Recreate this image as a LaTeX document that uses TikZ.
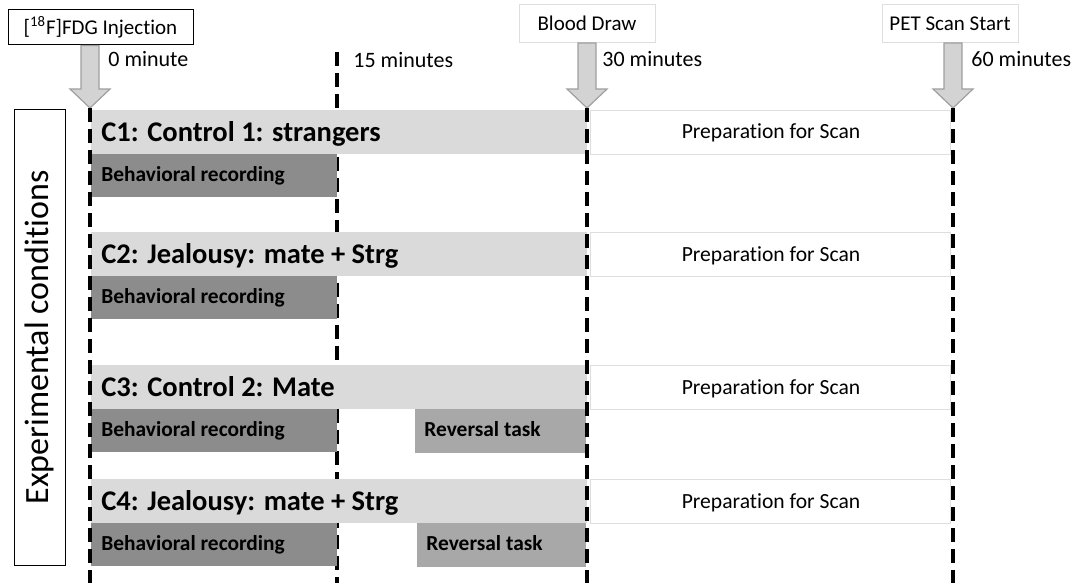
\documentclass[tikz,border=0pt]{standalone}
\usepackage{fontspec}
\setmainfont{Carlito}[Ligatures=NoCommon]
\usetikzlibrary{calc}

\definecolor{condgray}{RGB}{218,218,218}
\definecolor{recgray}{RGB}{140,140,140}
\definecolor{revgray}{RGB}{168,168,168}
\definecolor{arrowgray}{RGB}{211,211,211}
\definecolor{edgegray}{RGB}{160,160,160}
\definecolor{boxgray}{RGB}{222,222,222}

\tikzset{
  timeline/.style={line width=2pt, dash pattern=on 7pt off 3.5pt},
  topbox/.style={draw=boxgray, line width=0.5pt, fill=white, inner sep=0pt,
    minimum height=19pt, font=\fontsize{10.5}{12}\selectfont},
  timelabel/.style={anchor=base west, inner sep=0pt, font=\fontsize{11}{13}\selectfont},
  condlabel/.style={anchor=base west, inner sep=0pt, font=\fontsize{14.25}{16}\selectfont\bfseries},
  tasklabel/.style={anchor=base west, inner sep=0pt, font=\fontsize{10.7}{12}\selectfont\bfseries},
  preplabel/.style={anchor=base, inner sep=0pt, font=\fontsize{10.8}{12}\selectfont},
}

% block arrow from the bottom of a label box down to a time point
\newcommand{\blockarrow}[2]{%
  \draw[edgegray, fill=arrowgray, line width=0.6pt]
    ($(#1.south -| #2)+(-9,0)$) -- ($(#2)+(-9,-19)$) -- ($(#2)+(-20,-19)$) -- (#2)
    -- ($(#2)+(20,-19)$) -- ($(#2)+(9,-19)$) -- ($(#1.south -| #2)+(9,0)$) -- cycle;}

\begin{document}
\begin{tikzpicture}[x=0.5pt, y=-0.5pt]
  \useasboundingbox (0,0) rectangle (1086,583);

  % time points
  \coordinate (t0) at (90,108);
  \coordinate (t15) at (337,52);
  \coordinate (t30) at (587,108);
  \coordinate (t60) at (953,108);

  % labels on top
  \node[topbox, draw=black, minimum width=92.5pt, minimum height=17.5pt] (inj) at (100.5,27.5) {[\textsuperscript{18}F]FDG Injection};
  \node[topbox, minimum width=68pt] (blood) at (587,23.5) {Blood Draw};
  \node[topbox, minimum width=68pt] (pet) at (950,23.5) {PET Scan Start};

  \blockarrow{inj}{t0}
  \blockarrow{blood}{t30}
  \blockarrow{pet}{t60}

  \node[timelabel] (m0) at (108,67) {0 minute};
  \node[timelabel] (m15) at (353,68) {15 minutes};
  \node[timelabel] (m30) at (602,67) {30 minutes};
  \node[timelabel] (m60) at (971,67) {60 minutes};

  \draw[timeline] (t15) -- (337,583);

  % conditions
  \foreach \y/\name/\txt in {110/c1/{C1: Control 1: strangers}, 232/c2/{C2: Jealousy: mate + Strg},
      365/c3/{C3: Control 2: Mate}, 479/c4/{C4: Jealousy: mate + Strg}}{
    \fill[condgray] (91,\y) rectangle (587,\y+44);
    \fill[recgray] (91,\y+44) rectangle (337,\y+87);
    \draw[boxgray, fill=white] (590,\y) rectangle (950,\y+44);
    \node[condlabel] (\name) at (101,\y+31) {\txt};
    \node[tasklabel] (\name rec) at (101,\y+71) {Behavioral recording};
    \node[preplabel] (\name prep) at (771,\y+29) {Preparation for Scan};
  }

  % reversal task
  \foreach \y/\name/\x in {409/c3/415, 523/c4/417}{
    \fill[revgray] (\x,\y) rectangle (586,\y+44);
    \node[tasklabel] (\name rev) at (\x+9,\y+27) {Reversal task};
  }

  \draw[timeline] (t0) -- (90,583);
  \draw[timeline] (t30) -- (587,583);
  \draw[timeline] (t60) -- (953,583);

  \node[draw, line width=0.5pt, minimum width=25.5pt, minimum height=227.5pt] (cond) at (39.5,337.5) {};
  \node[rotate=90, font=\fontsize{17}{19}\selectfont] (condtxt) at (cond.center) {Experimental conditions};
\end{tikzpicture}
\end{document}
